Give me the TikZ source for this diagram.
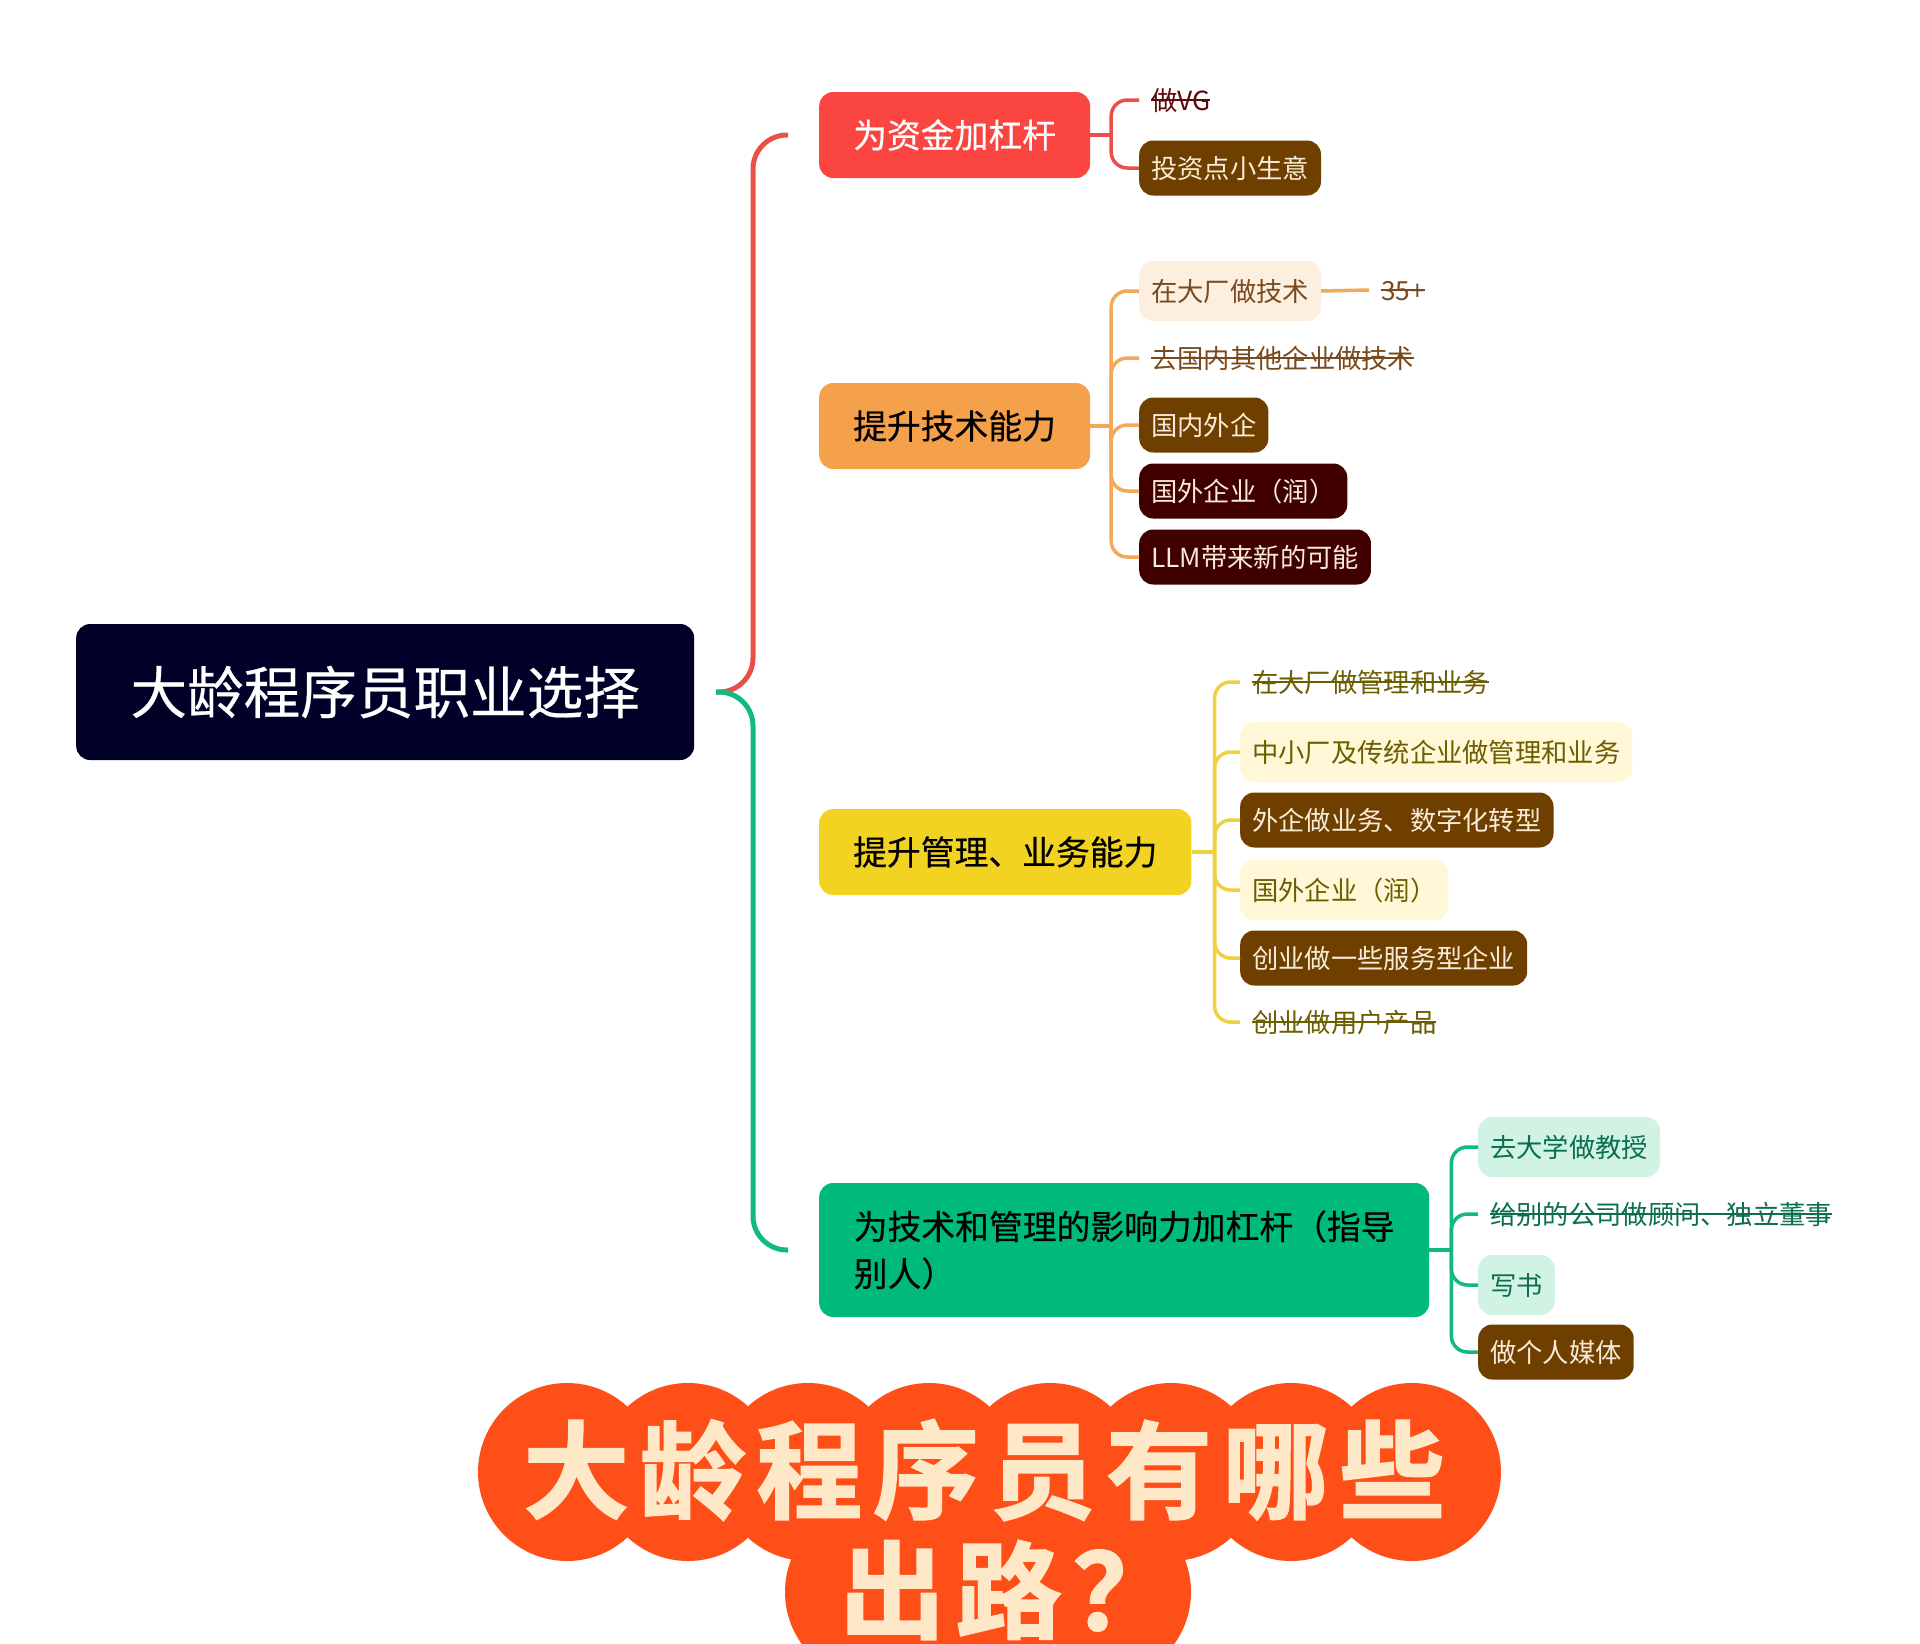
\documentclass[tikz,border=0pt]{standalone}
\usepackage{fontspec}
\setmainfont{Noto Sans CJK SC}
\newfontfamily\midcjk[FakeBold=0.4]{Noto Sans CJK SC}
\newfontfamily\heavycjk[FakeBold=1.6,LetterSpace=10]{Noto Sans CJK SC Bold}
\definecolor{rootnavy}{HTML}{000028}
\definecolor{cashred}{HTML}{FB4540}
\definecolor{techorange}{HTML}{F5A04A}
\definecolor{bizyellow}{HTML}{F3D321}
\definecolor{leadgreen}{HTML}{00BA7A}
\definecolor{redline}{HTML}{E9504A}
\definecolor{orangeline}{HTML}{F3A85A}
\definecolor{yellowline}{HTML}{EFD040}
\definecolor{greenline}{HTML}{12B981}
\definecolor{darkbrown}{HTML}{6F3F00}
\definecolor{darkmaroon}{HTML}{400000}
\definecolor{cream}{HTML}{F8EBD8}
\definecolor{paleorange}{HTML}{FDEFE0}
\definecolor{paleyellow}{HTML}{FFF7D6}
\definecolor{palegreen}{HTML}{D0F3E4}
\definecolor{inkred}{HTML}{5E0A0A}
\definecolor{inkbrown}{HTML}{7A4A1E}
\definecolor{inkolive}{HTML}{6B5E00}
\definecolor{inkgreen}{HTML}{0B6E4F}
\definecolor{burst}{HTML}{FF4F18}
\definecolor{burstink}{HTML}{FFE8C8}
\newcommand{\struck}[1]{\leavevmode\setbox0\hbox{#1}\rlap{\rule[0.36em]{\wd0}{2pt}}\box0}
\tikzset{
    leaf/.style={anchor=west, rounded corners=14pt, inner xsep=12pt, inner ysep=0pt, minimum height=55pt,
        text height=23pt, text depth=3pt, font=\fontsize{26.3}{30}\selectfont},
    tall/.style={leaf, minimum height=60pt},
    branch/.style={anchor=west, rounded corners=14pt, inner xsep=34pt, inner ysep=0pt, minimum width=270pt,
        minimum height=86pt, font=\midcjk\fontsize{33.8}{47}\selectfont},
    headline/.style={anchor=west, inner sep=0pt, text=burstink, font=\heavycjk\fontsize{106}{106}\selectfont},
    link/.style={line width=3.5pt, rounded corners=16pt},
    trunk/.style={line width=5pt, rounded corners=34pt}
}
\begin{document}
\begin{tikzpicture}[x=1pt,y=-1pt]
    \clip (0,0) rectangle (1920,1644);
    \fill[white] (0,0) rectangle (1920,1644);

    % title blob
    \fill[burst] (567,1407) rectangle (1412,1537);
    \foreach \cx in {567,688,808,929,1050,1171,1291,1412}
        \fill[burst] (\cx,1472) circle (89pt);
    \foreach \cx in {874,988,1102}
        \fill[burst] (\cx,1592) circle (89pt);
    \node[headline] (titleone) at (523,1470) {大龄程序员有哪些};
    \node[headline] (titletwo) at (839,1590) {出路？};

    % root and branches
    \node[anchor=west, fill=rootnavy, text=white, rounded corners=14pt, minimum width=618pt, minimum height=136pt,
        inner sep=0pt, font=\midcjk\fontsize{56.6}{60}\selectfont] (root) at (76,692) {大龄程序员职业选择};
    \node[branch, fill=cashred, text=white] (cash) at (819,135) {为资金加杠杆};
    \node[branch, fill=techorange, text=black] (tech) at (819,426) {提升技术能力};
    \node[branch, fill=bizyellow, text=black] (biz) at (819,852) {提升管理、业务能力};
    \node[branch, fill=leadgreen, text=black, minimum width=610pt, minimum height=134pt, align=left] (lead) at (819,1250) {为技术和管理的影响力加杠杆（指导\\别人）};

    % trunk ends stop short of the boxes
    \coordinate (rootout) at (716,692);
    \coordinate (cashin) at (788,135);
    \coordinate (leadin) at (788,1250);
    \draw[trunk, redline] (rootout) -- ++(37,0) |- (cashin);
    \draw[trunk, greenline] (rootout) -- ++(37,0) |- (leadin);

    % leaves: money
    \node[leaf, text=inkred] (vc) at (1139,100) {\struck{做VG}};
    \node[leaf, fill=darkbrown, text=cream] (shop) at (1139,168) {投资点小生意};
    \draw[link, redline] (cash.east) -- ++(21,0);
    \foreach \leafname in {vc,shop}
        \draw[link, redline] (cash.east) ++(21,0) |- (\leafname.west);

    % leaves: tech
    \node[tall, fill=paleorange, text=inkbrown] (bigtech) at (1139,291) {在大厂做技术};
    \node[leaf, text=inkbrown] (age) at (1369,290) {\struck{35+}};
    \node[leaf, text=inkbrown] (domestic) at (1139,358) {\struck{去国内其他企业做技术}};
    \node[leaf, fill=darkbrown, text=cream] (foreignin) at (1139,425) {国内外企};
    \node[leaf, fill=darkmaroon, text=cream] (abroad) at (1139,491) {国外企业（润）};
    \node[leaf, fill=darkmaroon, text=cream] (llm) at (1139,557) {LLM带来新的可能};
    \draw[link, orangeline] (tech.east) -- ++(21,0);
    \foreach \leafname in {bigtech,domestic,foreignin,abroad,llm}
        \draw[link, orangeline] (tech.east) ++(21,0) |- (\leafname.west);
    \draw[link, orangeline] (bigtech.east) -- (age.west);

    % leaves: business
    \node[leaf, text=inkolive] (bigbiz) at (1240,682) {\struck{在大厂做管理和业务}};
    \node[tall, fill=paleyellow, text=inkolive] (smallbiz) at (1240,752) {中小厂及传统企业做管理和业务};
    \node[leaf, fill=darkbrown, text=cream] (digital) at (1240,820) {外企做业务、数字化转型};
    \node[tall, fill=paleyellow, text=inkolive] (abroadbiz) at (1240,890) {国外企业（润）};
    \node[leaf, fill=darkbrown, text=cream] (service) at (1240,958) {创业做一些服务型企业};
    \node[leaf, text=inkolive] (product) at (1240,1022) {\struck{创业做用户产品}};
    \draw[link, yellowline] (biz.east) -- ++(23,0);
    \foreach \leafname in {bigbiz,smallbiz,digital,abroadbiz,service,product}
        \draw[link, yellowline] (biz.east) ++(23,0) |- (\leafname.west);

    % leaves: influence
    \node[tall, fill=palegreen, text=inkgreen] (prof) at (1478,1147) {去大学做教授};
    \node[leaf, text=inkgreen] (advisor) at (1478,1214) {\struck{给别的公司做顾问、独立董事}};
    \node[tall, fill=palegreen, text=inkgreen] (book) at (1478,1285) {写书};
    \node[leaf, fill=darkbrown, text=cream] (media) at (1478,1352) {做个人媒体};
    \draw[link, greenline] (lead.east) -- ++(22,0);
    \foreach \leafname in {prof,advisor,book,media}
        \draw[link, greenline] (lead.east) ++(22,0) |- (\leafname.west);
\end{tikzpicture}
\end{document}
